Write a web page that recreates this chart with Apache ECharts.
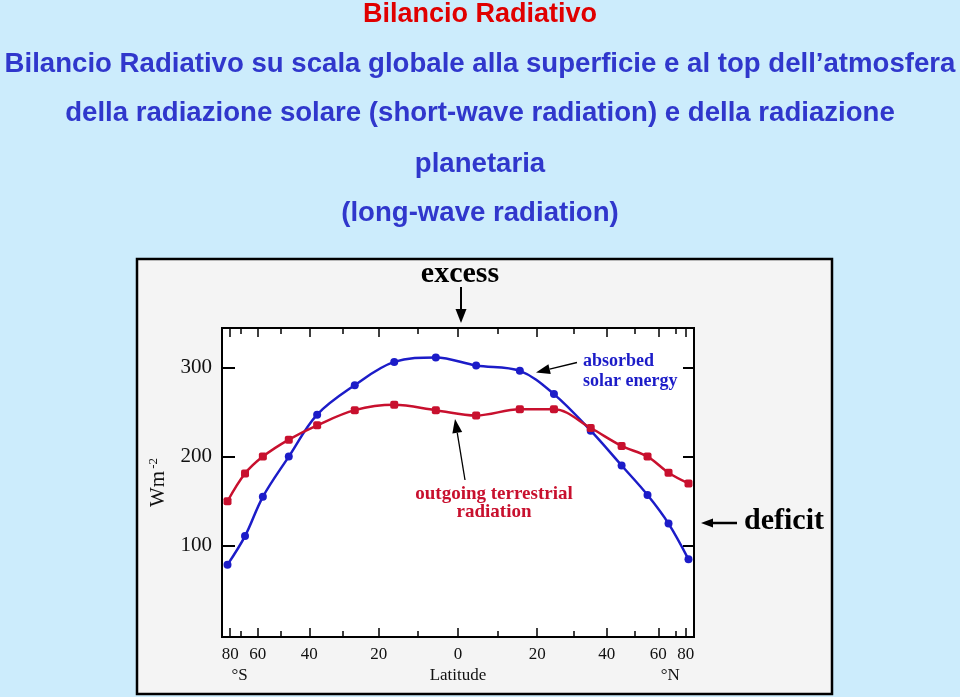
<!DOCTYPE html>
<html>
<head>
<meta charset="utf-8">
<script src="https://cdn.jsdelivr.net/npm/echarts@6/dist/echarts.min.js"></script>
<style>
html,body{margin:0;padding:0;background:#ccecfc;}
#chart{width:960px;height:697px;}
</style>
</head>
<body>
<div id="chart"></div>
<script>
// ---- data ----
const latitudes = [-85, -67, -57.5, -47, -37.5, -26.5, -16, -5.5, 4.5, 15.5, 24.5, 35, 45, 55, 65.5, 85];
const absorbedSolar = [79, 111, 155, 200, 247, 280, 306, 311, 302, 296, 270, 229, 190, 157, 125, 85];
const outgoingTerrestrial = [150, 181, 200, 219, 235, 252, 258, 252, 246, 253, 253, 232, 212, 200, 182, 170];
const majorLatTicks = [-80, -60, -40, -20, 0, 20, 40, 60, 80];
const minorLatTicks = [-70, -50, -30, -10, 10, 30, 50, 70];
const yTickValues = [100, 200, 300];
const titleLines = [
  'Bilancio Radiativo',
  'Bilancio Radiativo su scala globale alla superficie e al top dell\u2019atmosfera',
  'della radiazione solare (short-wave radiation) e della radiazione',
  'planetaria',
  '(long-wave radiation)'
];

// latitude axis is area-weighted (sine of latitude)
const toX = lat => Math.sin(lat * Math.PI / 180);
const toLat = x => Math.asin(Math.max(-1, Math.min(1, x))) * 180 / Math.PI;

const XMIN = -1.02, XMAX = 1.02;
const serif = 'Liberation Serif';
const sans = 'Liberation Sans';
const BLUE = '#1c1cc8';
const RED = '#c8102e';
const TITLE_BLUE = '#3037cc';

function latAxis(pos, ticks, len, labels) {
  return {
    type: 'value', min: XMIN, max: XMAX, position: pos,
    axisLine: { show: false, onZero: false },
    splitLine: { show: false },
    axisTick: { show: true, inside: true, length: len, customValues: ticks.map(toX),
      lineStyle: { color: '#000', width: 1.5 } },
    axisLabel: labels ? {
      show: true, customValues: ticks.map(toX), margin: 9,
      formatter: v => String(Math.round(Math.abs(toLat(v)))),
      fontFamily: serif, fontSize: 17, color: '#111'
    } : { show: false }
  };
}

const chart = echarts.init(document.getElementById('chart'), null, { renderer: 'canvas' });

const titleGraphics = titleLines.map((t, i) => ({
  type: 'text', x: 480, y: [15, 64, 113, 164, 213][i], z: 10,
  style: {
    text: t, align: 'center', verticalAlign: 'middle',
    fontFamily: sans, fontWeight: 'bold', fontSize: i === 0 ? 27 : 27.6,
    fill: i === 0 ? '#e00000' : TITLE_BLUE
  }
}));

function arrow(x1, y1, x2, y2, headLen, headW, width) {
  const a = Math.atan2(y2 - y1, x2 - x1);
  const bx = x2 - headLen * Math.cos(a), by = y2 - headLen * Math.sin(a);
  const px = -Math.sin(a) * headW / 2, py = Math.cos(a) * headW / 2;
  return [
    { type: 'line', z: 20, shape: { x1: x1, y1: y1, x2: bx, y2: by }, style: { stroke: '#000', lineWidth: width } },
    { type: 'polygon', z: 20, shape: { points: [[x2, y2], [bx + px, by + py], [bx - px, by - py]] }, style: { fill: '#000' } }
  ];
}

const option = {
  backgroundColor: '#ccecfc',
  animation: false,
  grid: { left: 222, right: 266, top: 328, bottom: 60, show: true, backgroundColor: '#ffffff',
    borderColor: '#000', borderWidth: 2, containLabel: false },
  xAxis: [
    latAxis('bottom', majorLatTicks, 9, true),
    latAxis('bottom', minorLatTicks, 6, false),
    latAxis('top', majorLatTicks, 9, false),
    latAxis('top', minorLatTicks, 6, false),
    {
      type: 'value', min: XMIN, max: XMAX, position: 'bottom',
      axisLine: { show: false, onZero: false }, axisTick: { show: false }, splitLine: { show: false },
      axisLabel: {
        show: true, customValues: [toX(-70.7), 0, toX(66.6)], margin: 30,
        formatter: v => (v < -0.5 ? '\u00b0S' : (v > 0.5 ? '\u00b0N' : 'Latitude')),
        fontFamily: serif, fontSize: 17, color: '#111'
      }
    }
  ],
  yAxis: [
    {
      type: 'value', min: -2, max: 344, position: 'left',
      axisLine: { show: false, onZero: false }, splitLine: { show: false },
      axisTick: { show: true, inside: true, length: 13, customValues: yTickValues, lineStyle: { color: '#000', width: 2 } },
      axisLabel: { customValues: yTickValues, margin: 10, fontFamily: serif, fontSize: 21, color: '#111' },
      name: 'Wm{s|-2}', nameLocation: 'middle', nameGap: 52, nameRotate: 90,
      nameTextStyle: { fontFamily: serif, fontSize: 21, color: '#111',
        rich: { s: { fontFamily: serif, fontSize: 13, color: '#111', verticalAlign: 'bottom', padding: [0, 0, 10, 2] } } }
    },
    {
      type: 'value', min: -2, max: 344, position: 'right',
      axisLine: { show: false, onZero: false }, splitLine: { show: false },
      axisTick: { show: true, inside: true, length: 11, customValues: yTickValues, lineStyle: { color: '#000', width: 2 } },
      axisLabel: { show: false }
    }
  ],
  series: [
    {
      name: 'absorbed solar energy', type: 'line', xAxisIndex: 0, yAxisIndex: 0,
      data: latitudes.map((l, i) => [toX(l), absorbedSolar[i]]),
      smooth: 0.35, symbol: 'circle', symbolSize: 8, z: 3,
      lineStyle: { color: BLUE, width: 2.5 }, itemStyle: { color: BLUE }
    },
    {
      name: 'outgoing terrestrial radiation', type: 'line', xAxisIndex: 0, yAxisIndex: 0,
      data: latitudes.map((l, i) => [toX(l), outgoingTerrestrial[i]]),
      smooth: 0.35, symbol: 'roundRect', symbolSize: 8, z: 4,
      lineStyle: { color: RED, width: 2.5 }, itemStyle: { color: RED }
    }
  ],
  graphic: [
    { type: 'rect', z: -10, shape: { x: 137, y: 259, width: 695, height: 435 },
      style: { fill: '#f4f4f4', stroke: '#000', lineWidth: 2.5 } },
    ...titleGraphics,
    { type: 'text', x: 460, y: 274, z: 20, style: { text: 'excess', align: 'center', verticalAlign: 'middle',
      fontFamily: serif, fontWeight: 'bold', fontSize: 30, fill: '#000' } },
    ...arrow(461, 287, 461, 323, 14, 11, 2),
    { type: 'text', x: 583, y: 361, z: 20, style: { text: 'absorbed', align: 'left', verticalAlign: 'middle',
      fontFamily: serif, fontWeight: 'bold', fontSize: 18, fill: BLUE } },
    { type: 'text', x: 583, y: 381, z: 20, style: { text: 'solar energy', align: 'left', verticalAlign: 'middle',
      fontFamily: serif, fontWeight: 'bold', fontSize: 18, fill: BLUE } },
    ...arrow(577, 362.5, 536, 372.5, 14, 10, 1.3),
    { type: 'text', x: 494, y: 494, z: 20, style: { text: 'outgoing terrestrial', align: 'center', verticalAlign: 'middle',
      fontFamily: serif, fontWeight: 'bold', fontSize: 19, fill: RED } },
    { type: 'text', x: 494, y: 512, z: 20, style: { text: 'radiation', align: 'center', verticalAlign: 'middle',
      fontFamily: serif, fontWeight: 'bold', fontSize: 19, fill: RED } },
    ...arrow(465, 480, 455, 419, 14, 10, 1.3),
    { type: 'text', x: 784, y: 521, z: 20, style: { text: 'deficit', align: 'center', verticalAlign: 'middle',
      fontFamily: serif, fontWeight: 'bold', fontSize: 30, fill: '#000' } },
    ...arrow(737, 523, 701, 523, 12, 9, 2.5)
  ]
};
chart.setOption(option);
</script>
</body>
</html>
